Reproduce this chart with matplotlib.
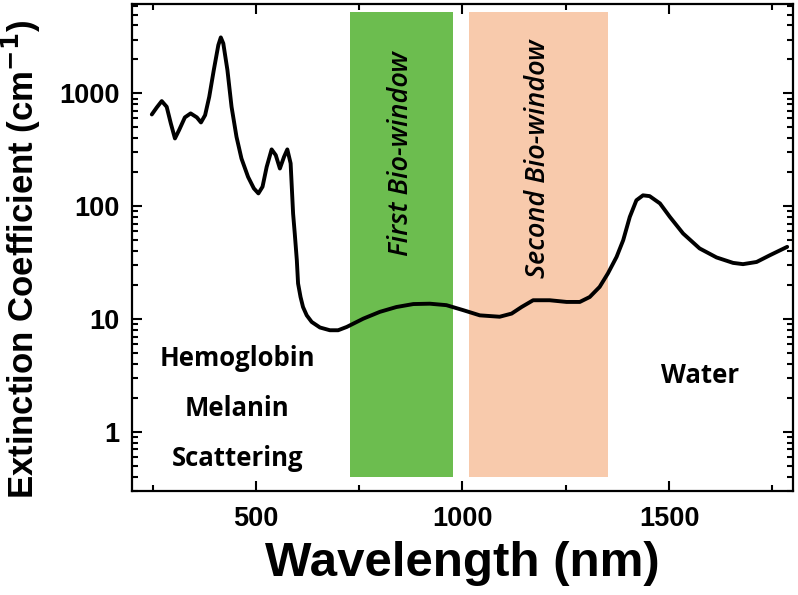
import matplotlib
matplotlib.use("Agg")
import matplotlib.pyplot as plt
from matplotlib.ticker import LogLocator, MultipleLocator, FixedFormatter, FixedLocator

# extinction spectrum (nm, cm^-1)
wavelength = [248, 260, 272, 284, 294, 304, 314, 328, 342, 357, 367, 377, 387, 398,
              409, 415, 421, 431, 441, 453, 465, 481, 495, 506, 516, 526, 538, 548,
              558, 568, 576, 584, 590, 594, 599, 602, 608, 614, 623, 635, 655, 679,
              699, 720, 760, 800, 840, 881, 921, 961, 1002, 1042, 1090, 1119, 1143,
              1171, 1211, 1252, 1284, 1308, 1332, 1352, 1373, 1389, 1405, 1421, 1437,
              1453, 1478, 1502, 1534, 1574, 1615, 1655, 1679, 1712, 1744, 1786]
extinction = [651, 751, 855, 761, 542, 399, 473, 613, 665, 613, 553, 642, 933, 1610,
              2680, 3135, 2775, 1610, 761, 412, 265, 182, 144, 130, 149, 223, 319, 284,
              216, 274, 319, 240, 86, 57.4, 33.3, 20.7, 15.7, 12.8, 10.8, 9.44, 8.43, 7.97,
              7.97, 8.53, 10.1, 11.6, 12.8, 13.6, 13.7, 13.3, 12.0, 10.8, 10.5, 11.2, 12.8,
              14.7, 14.7, 14.2, 14.2, 15.7, 19.3, 25.4, 35.6, 50, 80.5, 113, 125,
              123, 106, 80.5, 57.4, 42.3, 35.2, 31.5, 30.7, 32.1, 36.8, 43.7]

# bio-windows (nm)
windows = [(727, 977), (1015, 1352)]
window_colors = ['#6cbd4f', '#f8caac']
window_names = ['First Bio-window', 'Second Bio-window']
window_label_pos = [(852, 292), (1183, 266)]

absorbers = ['Hemoglobin', 'Melanin', 'Scattering']
absorber_y = [4.5, 1.62, 0.58]

fig = plt.figure(figsize=(7.98, 5.95), dpi=100)
ax = fig.add_axes([0.1654, 0.1748, 0.8283, 0.8185])

for (lo, hi), c in zip(windows, window_colors):
    ax.fill_between([lo, hi], 0.4, 5300, color=c, lw=0, zorder=1)
for name, (wx, wy) in zip(window_names, window_label_pos):
    ax.text(wx, wy, name, rotation=90, ha='center', va='center', fontsize=19.5,
            style='italic', fontweight='semibold', family='Open Sans', zorder=3)

ax.plot(wavelength, extinction, color='black', lw=2.8, zorder=4,
        solid_joinstyle='round', solid_capstyle='round')

for name, yy in zip(absorbers, absorber_y):
    ax.text(455, yy, name, ha='center', va='center', fontsize=18.5,
            fontweight='bold', family='Open Sans')
ax.text(1574, 3.18, 'Water', ha='center', va='center', fontsize=18.5,
        fontweight='bold', family='Open Sans')

ax.set_yscale('log')
ax.set_xlim(200, 1800)
ax.set_ylim(0.3, 6200)
ax.xaxis.set_major_locator(MultipleLocator(500))
ax.xaxis.set_minor_locator(MultipleLocator(250))
ax.yaxis.set_major_locator(FixedLocator([1, 10, 100, 1000]))
ax.yaxis.set_major_formatter(FixedFormatter(['1', '10', '100', '1000']))
ax.yaxis.set_minor_locator(LogLocator(base=10, subs=range(2, 10)))

ax.tick_params(which='both', direction='in', top=True, right=True, width=1.5,
               labelsize=19.5, pad=9)
ax.tick_params(which='major', length=7)
ax.tick_params(which='minor', length=4)
ax.tick_params(axis='x', pad=11)
for lab in ax.get_xticklabels() + ax.get_yticklabels():
    lab.set_fontweight('bold')
    lab.set_family('Liberation Sans')
for s in ax.spines.values():
    s.set_linewidth(1.6)

ax.set_xlabel('Wavelength (nm)', fontsize=35.5, fontweight='bold',
              family='Liberation Sans', labelpad=6)
ax.set_ylabel('Extinction Coefficient (cm$^{\\mathbf{-1}}$)', fontsize=25,
              fontweight='bold', family='Liberation Sans')
ax.yaxis.set_label_coords(-0.135, 0.476)

fig.savefig('out.png', dpi=100)
